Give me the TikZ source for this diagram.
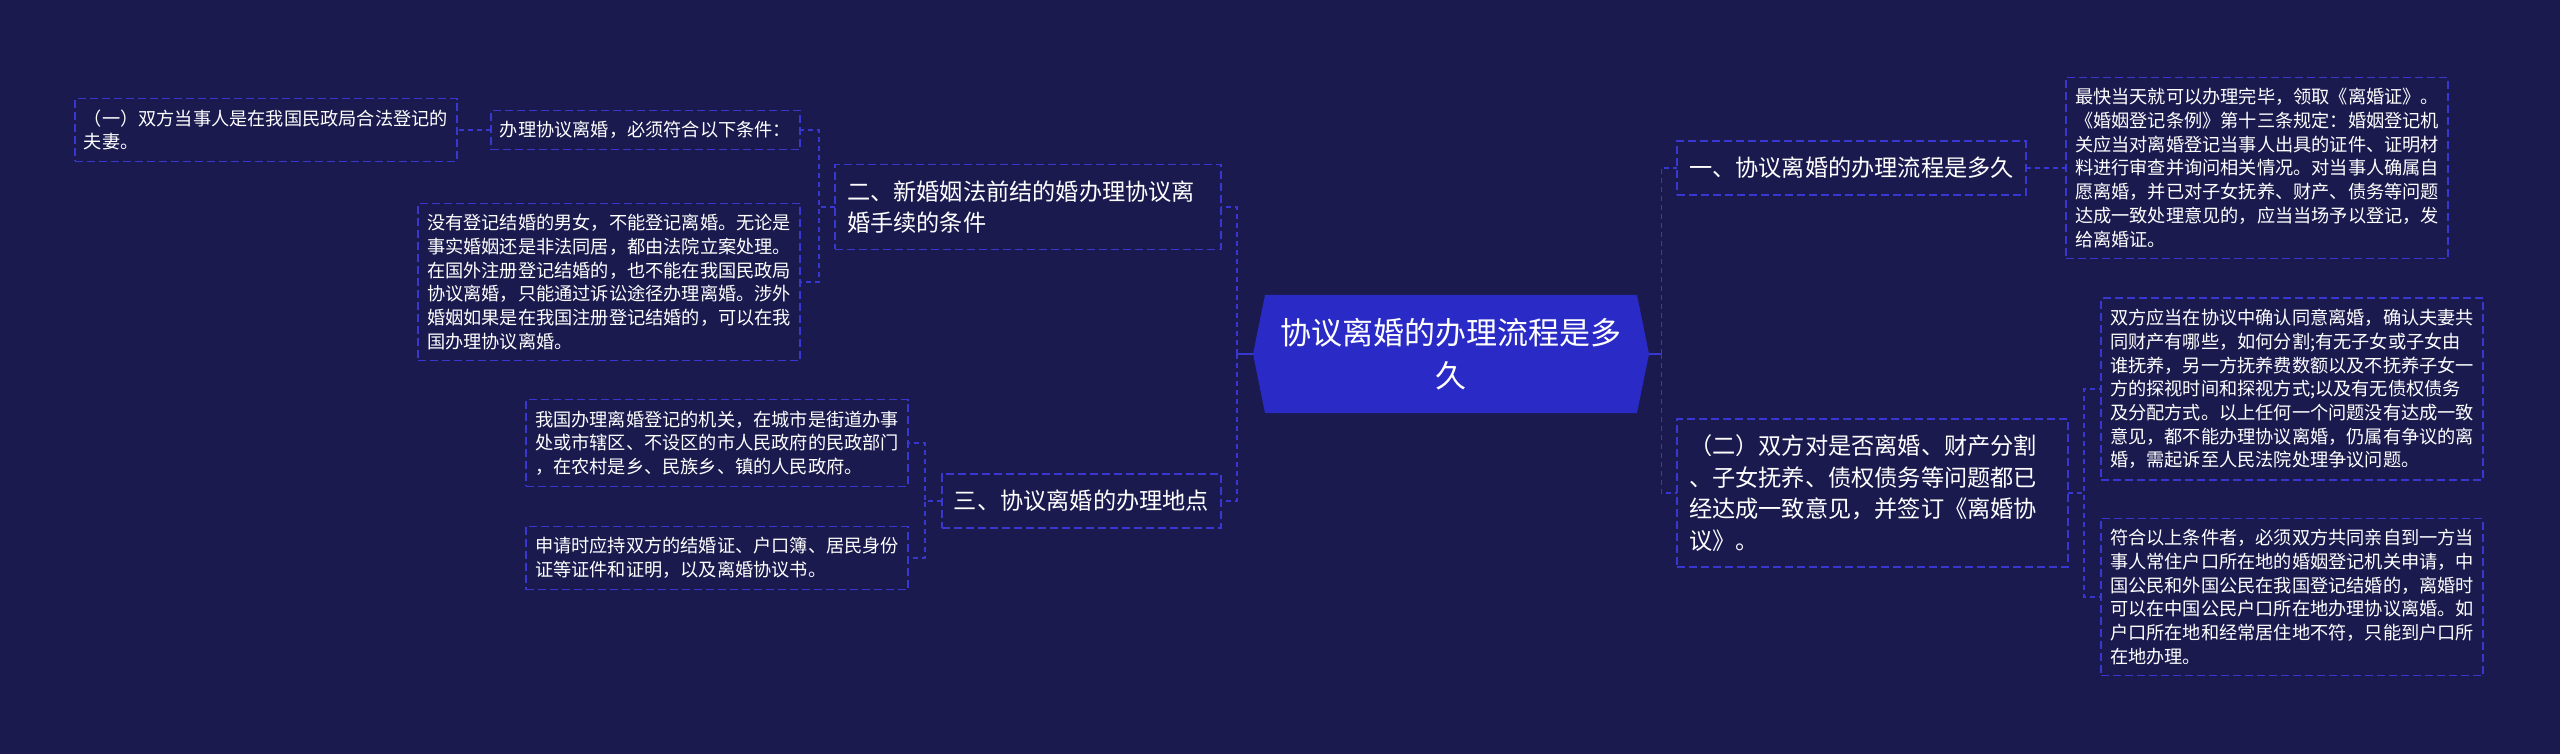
\documentclass[tikz,border=0pt]{standalone}
\usepackage{fontspec}
\newfontfamily\cjk{Noto Sans CJK SC}
\usetikzlibrary{positioning,shapes.symbols}
\definecolor{bgnavy}{HTML}{1A1A4F}
\definecolor{hubblue}{HTML}{2A2AC6}
\definecolor{dashblue}{HTML}{3838D0}

\begin{document}
\begin{tikzpicture}[
  x=0.5pt, y=-0.5pt,
  hub/.style={signal, signal to=west and east, signal pointer angle=157,
              fill=hubblue, text=white, align=center, inner sep=0pt,
              minimum width=198pt, minimum height=59pt,
              font=\cjk\fontsize{15.5pt}{21.5pt}\selectfont},
  box/.style={draw=dashblue, line width=0.7pt, dash pattern=on 4pt off 2pt,
              text=white, align=left, outer sep=0pt},
  branch/.style={box, inner xsep=6pt, inner ysep=8pt,
                 font=\cjk\fontsize{11.6pt}{15.7pt}\selectfont},
  leaf/.style={box, inner xsep=4.5pt, inner ysep=5.5pt,
               font=\cjk\fontsize{9.1pt}{11.85pt}\selectfont},
  link/.style={draw=dashblue, line width=0.9pt, dash pattern=on 2.5pt off 2pt},
  stub/.style={draw=dashblue, line width=1pt}
]
\useasboundingbox (0,0) rectangle (2560,754);
\fill[bgnavy] (0,0) rectangle (2560,754);

\node[hub] (hub) at (1451,354) {协议离婚的办理流程是多\\久};

% right side
\node[branch, anchor=west] (r1) at (1677,168) {一、协议离婚的办理流程是多久};
\node[leaf, anchor=west] (r1a) at (2066,168) {最快当天就可以办理完毕，领取《离婚证》。\\《婚姻登记条例》第十三条规定：婚姻登记机\\关应当对离婚登记当事人出具的证件、证明材\\料进行审查并询问相关情况。对当事人确属自\\愿离婚，并已对子女抚养、财产、债务等问题\\达成一致处理意见的，应当当场予以登记，发\\给离婚证。};
\node[branch, anchor=west, text width=183.5pt] (r2) at (1677,493) {（二）双方对是否离婚、财产分割\\、子女抚养、债权债务等问题都已\\经达成一致意见，并签订《离婚协\\议》。};
\node[leaf, anchor=west] (r2a) at (2101,389) {双方应当在协议中确认同意离婚，确认夫妻共\\同财产有哪些，如何分割;有无子女或子女由\\谁抚养，另一方抚养费数额以及不抚养子女一\\方的探视时间和探视方式;以及有无债权债务\\及分配方式。以上任何一个问题没有达成一致\\意见，都不能办理协议离婚，仍属有争议的离\\婚，需起诉至人民法院处理争议问题。};
\node[leaf, anchor=west] (r2b) at (2101,597) {符合以上条件者，必须双方共同亲自到一方当\\事人常住户口所在地的婚姻登记机关申请，中\\国公民和外国公民在我国登记结婚的，离婚时\\可以在中国公民户口所在地办理协议离婚。如\\户口所在地和经常居住地不符，只能到户口所\\在地办理。};

% left side
\node[branch, anchor=east, text width=181pt] (l2) at (1221,207) {二、新婚姻法前结的婚办理协议离\\婚手续的条件};
\node[leaf, anchor=east] (l2a) at (800,130) {办理协议离婚，必须符合以下条件：};
\node[leaf, anchor=east] (l2a1) at (457,130) {（一）双方当事人是在我国民政局合法登记的\\夫妻。};
\node[leaf, anchor=east] (l2b) at (800,282) {没有登记结婚的男女，不能登记离婚。无论是\\事实婚姻还是非法同居，都由法院立案处理。\\在国外注册登记结婚的，也不能在我国民政局\\协议离婚，只能通过诉讼途径办理离婚。涉外\\婚姻如果是在我国注册登记结婚的，可以在我\\国办理协议离婚。};
\node[branch, anchor=east] (l3) at (1221,501) {三、协议离婚的办理地点};
\node[leaf, anchor=east] (l3a) at (908,443) {我国办理离婚登记的机关，在城市是街道办事\\处或市辖区、不设区的市人民政府的民政部门\\，在农村是乡、民族乡、镇的人民政府。};
\node[leaf, anchor=east] (l3b) at (908,558) {申请时应持双方的结婚证、户口簿、居民身份\\证等证件和证明，以及离婚协议书。};

% connectors
\draw[stub] (hub.east) -- ++(12,0);
\draw[stub] (hub.west) -- ++(-16,0);
\foreach \b in {r1, r2}
  \draw[link] (hub.east) ++(12,0) |- (\b.west);
\foreach \b in {l2, l3}
  \draw[link] (hub.west) ++(-16,0) |- (\b.east);
\foreach \b in {r2a, r2b}
  \draw[link] (r2.east) -- ++(16,0) |- (\b.west);
\foreach \b in {l2a, l2b}
  \draw[link] (l2.west) -- ++(-16,0) |- (\b.east);
\foreach \b in {l3a, l3b}
  \draw[link] (l3.west) -- ++(-17,0) |- (\b.east);
\draw[link] (r1.east) -- (r1a.west);
\draw[link] (l2a.west) -- (l2a1.east);
\end{tikzpicture}
\end{document}
